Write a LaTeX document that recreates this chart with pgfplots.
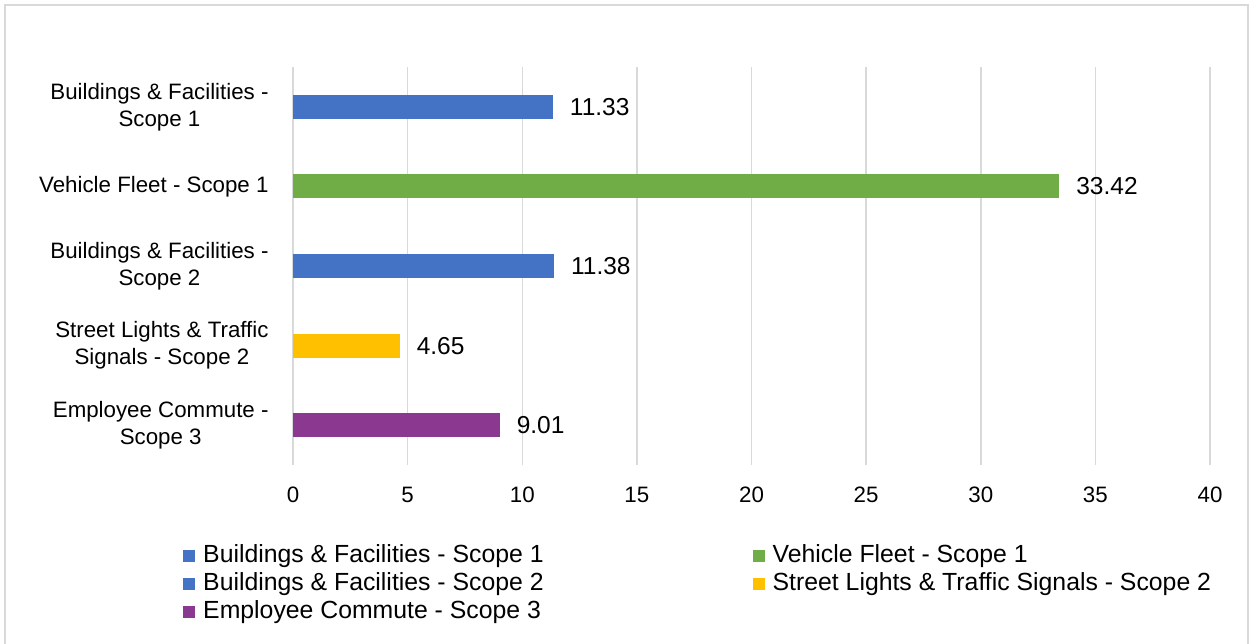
\documentclass[border=0pt]{standalone}
\usepackage{pgfplots}
\pgfplotsset{compat=1.18}
\usepackage{fontspec}
\setmainfont{Liberation Sans}
\definecolor{cBlue}{HTML}{4472C4}
\definecolor{cGreen}{HTML}{70AD47}
\definecolor{cGold}{HTML}{FFC000}
\definecolor{cPurple}{HTML}{8B3990}
\definecolor{cGrid}{HTML}{D9D9D9}
\begin{document}
\begin{tikzpicture}[x=1pt,y=1pt,font=\fontsize{22.3}{27}\selectfont]
\useasboundingbox (0,0) rectangle (1252,643);
\draw[cGrid, line width=1.5pt] (5,-5) rectangle (1248,638);
\begin{axis}[
  at={(293pt,178pt)}, anchor=south west,
  scale only axis, width=917pt, height=398pt,
  xmin=0, xmax=40, ymin=-0.5, ymax=4.5,
  xtick={0,5,...,40},
  ytick={0,1,2,3,4},
  yticklabels={{Employee Commute -\\Scope 3},{Street Lights \& Traffic\\Signals - Scope 2},{Buildings \& Facilities -\\Scope 2},{Vehicle Fleet - Scope 1},{Buildings \& Facilities -\\Scope 1}},
  yticklabel style={align=center, inner sep=0pt, xshift=-20pt},
  xticklabel style={inner sep=0pt, yshift=-22pt},
  /pgf/number format/assume math mode=true,
  xmajorgrids, major grid style={cGrid, line width=1.5pt},
  axis line style={draw=none}, tick style={draw=none},
  xbar, bar width=24pt, bar shift=0pt,
  nodes near coords={\pgfmathprintnumber[fixed,fixed zerofill,precision=2,assume math mode=true]{\pgfplotspointmeta}},
  point meta=x,
  every node near coord/.append style={anchor=west, inner sep=0pt, xshift=17pt, text=black, font=\fontsize{24.5}{27}\selectfont},
  legend columns=2,
  legend cell align=left,
  legend image code/.code={\fill[#1] (0pt,-6pt) rectangle (12pt,6pt);},
  legend style={at={(-0.1232,-0.196)}, anchor=north west, draw=none, fill=none,
    font=\fontsize{24.8}{27}\selectfont,
    nodes={inner sep=0pt, text height=17pt, text depth=5pt},
    row sep=6pt,
    /tikz/every even column/.append style={column sep=209pt},
    /tikz/every odd column/.append style={column sep=8pt}},
]
\addplot[fill=cBlue, draw=none] coordinates {(11.33,4)};
\addlegendentry{Buildings \& Facilities - Scope 1}
\addplot[fill=cGreen, draw=none] coordinates {(33.42,3)};
\addlegendentry{Vehicle Fleet - Scope 1}
\addplot[fill=cBlue, draw=none] coordinates {(11.38,2)};
\addlegendentry{Buildings \& Facilities - Scope 2}
\addplot[fill=cGold, draw=none] coordinates {(4.65,1)};
\addlegendentry{Street Lights \& Traffic Signals - Scope 2}
\addplot[fill=cPurple, draw=none] coordinates {(9.01,0)};
\addlegendentry{Employee Commute - Scope 3}
\end{axis}
\end{tikzpicture}
\end{document}
